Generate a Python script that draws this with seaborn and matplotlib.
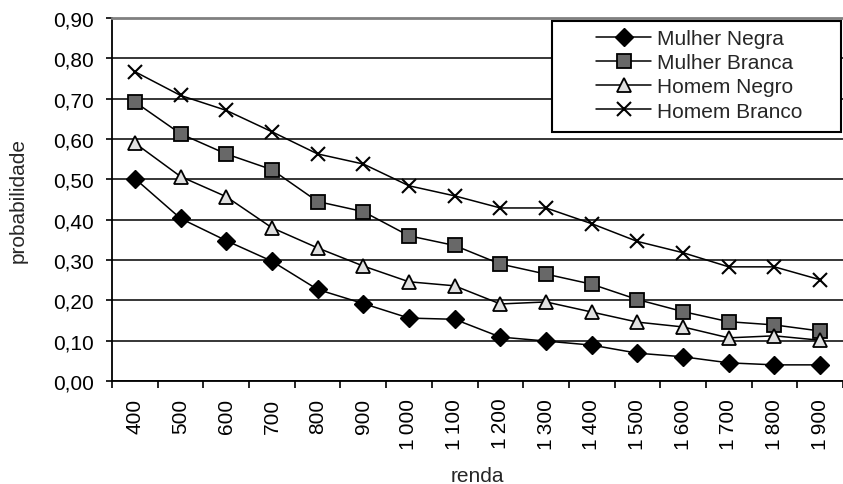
import numpy as np
import pandas as pd
import matplotlib
matplotlib.use("Agg")
import matplotlib.pyplot as plt
import seaborn as sns
from matplotlib.patches import Rectangle

categories = ["400", "500", "600", "700", "800", "900", "1\u2009000", "1\u2009100",
              "1\u2009200", "1\u2009300", "1\u2009400", "1\u2009500", "1\u2009600",
              "1\u2009700", "1\u2009800", "1\u2009900"]
mulher_negra = [0.502, 0.403, 0.348, 0.297, 0.227, 0.192, 0.156, 0.153,
                0.109, 0.099, 0.089, 0.069, 0.060, 0.045, 0.040, 0.040]
mulher_branca = [0.692, 0.613, 0.563, 0.524, 0.445, 0.420, 0.360, 0.336,
                 0.290, 0.265, 0.240, 0.202, 0.172, 0.147, 0.139, 0.124]
homem_negro = [0.590, 0.507, 0.457, 0.380, 0.330, 0.285, 0.246, 0.236,
               0.191, 0.196, 0.171, 0.146, 0.134, 0.107, 0.112, 0.101]
homem_branco = [0.767, 0.708, 0.671, 0.618, 0.563, 0.538, 0.484, 0.459,
                0.429, 0.429, 0.390, 0.346, 0.318, 0.283, 0.283, 0.251]
series_names = ["Mulher Negra", "Mulher Branca", "Homem Negro", "Homem Branco"]
yticks = [0.0, 0.1, 0.2, 0.3, 0.4, 0.5, 0.6, 0.7, 0.8, 0.9]
ytick_labels = ["0,00", "0,10", "0,20", "0,30", "0,40", "0,50", "0,60", "0,70", "0,80", "0,90"]

sns.set_style("white")
plt.rcParams["font.family"] = ["Liberation Sans", "DejaVu Sans"]
FS = 15

fig = plt.figure(figsize=(8.43, 4.85), dpi=100)
ax = fig.add_axes([112 / 843, 103 / 485, 731 / 843, 363 / 485])

pos = np.arange(len(categories))
styles = [
    dict(marker="D", markersize=9, markerfacecolor="black", markeredgecolor="black", markeredgewidth=1.0),
    dict(marker="s", markersize=9.5, markerfacecolor="#686868", markeredgecolor="black", markeredgewidth=1.3),
    dict(marker="^", markersize=10.5, markerfacecolor="#e0e0e0", markeredgecolor="black", markeredgewidth=1.3),
    dict(marker="x", markersize=10.5, markerfacecolor="black", markeredgecolor="black", markeredgewidth=1.5),
]
for name, vals, st in zip(series_names, [mulher_negra, mulher_branca, homem_negro, homem_branco], styles):
    sns.lineplot(x=pos, y=vals, ax=ax, color="black", linewidth=1.1, label=name, zorder=3, **st)

ax.set_xlim(-0.5, 15.305)
ax.set_ylim(0, 0.9)
ax.set_yticks(yticks)
ax.set_yticklabels(ytick_labels, fontsize=FS)
ax.set_xticks(pos)
ax.set_xticklabels(categories, rotation=90, fontsize=FS)
ax.set_xticks(np.arange(len(categories) + 1) - 0.5, minor=True)
ax.tick_params(axis="x", which="major", length=0, pad=12, colors="black")
ax.tick_params(axis="x", which="minor", length=5, width=1.2, direction="out", bottom=True, color="black")
ax.tick_params(axis="y", which="major", length=4.5, width=1.2, direction="out", left=True, pad=8.5, colors="black")

ax.yaxis.grid(True, color="black", linewidth=1.1, zorder=1)
ax.set_axisbelow(True)
for side in ["left", "bottom"]:
    ax.spines[side].set_color("black")
    ax.spines[side].set_linewidth(1.3)
ax.spines["top"].set_visible(True)
ax.spines["top"].set_color("#808080")
ax.spines["top"].set_linewidth(2.0)
ax.spines["right"].set_visible(False)

ax.set_xlabel("renda", fontsize=FS)
ax.xaxis.set_label_coords(0.5, (382 - 467) / 363)
ax.set_ylabel("probabilidade", fontsize=FS, labelpad=18.5)

h, l = ax.get_legend_handles_labels()
ax.get_legend().remove()

rect = Rectangle((552 / 843, (485 - 133) / 485), (841 - 552) / 843, 111 / 485,
                 transform=fig.transFigure, facecolor="white", edgecolor="black",
                 linewidth=1.5, zorder=4)
fig.add_artist(rect)
leg = fig.legend(h, l, loc="upper left", bbox_to_anchor=(596 / 843, (485 - 30) / 485),
                 frameon=False, fontsize=FS, handlelength=2.65, handletextpad=0.29,
                 labelspacing=0.25, borderpad=0, borderaxespad=0)
leg.set_zorder(5)

fig.savefig("out.png", dpi=100, facecolor="white")
